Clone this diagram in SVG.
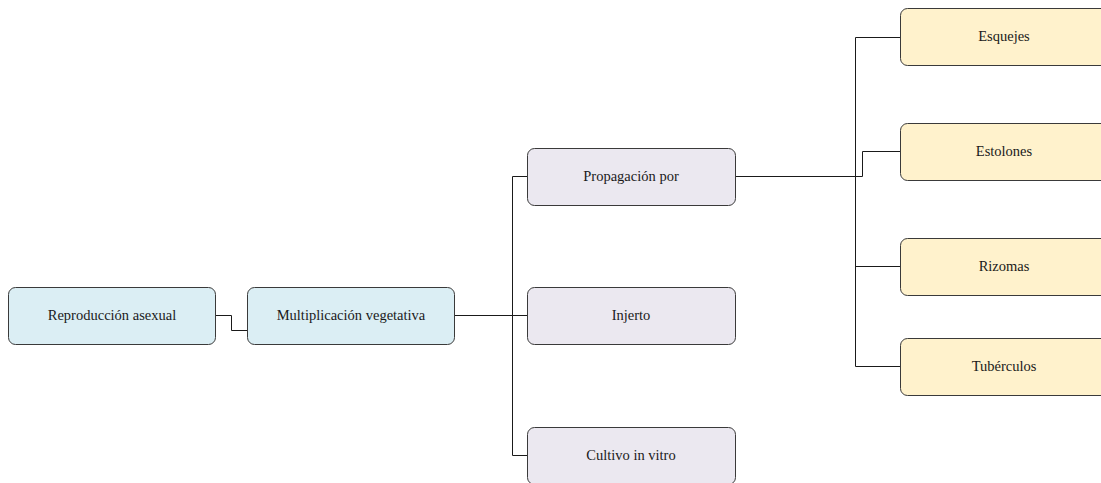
<svg xmlns="http://www.w3.org/2000/svg" width="1101" height="483" viewBox="0 0 1101 483">
<style>
.n rect{stroke:#3a3a3a;stroke-width:1;}
.b rect{fill:#dbeef4;}
.p rect{fill:#ebe8f0;}
.y rect{fill:#fff2cc;}
.n text{font-family:"Liberation Serif","Times New Roman",serif;font-size:14.5px;fill:#1a1a1a;text-anchor:middle;dominant-baseline:central;}
#connectors path{fill:none;stroke:#1a1a1a;stroke-width:1;}
</style>
<rect width="1101" height="483" fill="#ffffff"/>
<g id="connectors">
<path d="M215.5,315.5 H231.5 V330.5 H247"/>
<path d="M454.5,315.5 H527"/>
<path d="M527,176.5 H512.5 V455.5 H527"/>
<path d="M735,176.5 H862.5 V151.5 H900"/>
<path d="M900,37.5 H855.5 V366.5 H900"/>
<path d="M855.5,266.5 H900"/>
</g>
<g id="n1" class="n b"><rect x="8.5" y="287.5" width="207" height="57" rx="7"/><text x="112" y="315">Reproducción asexual</text></g>
<g id="n2" class="n b"><rect x="247.5" y="287.5" width="207" height="57" rx="7"/><text x="351" y="315">Multiplicación vegetativa</text></g>
<g id="n3" class="n p"><rect x="527.5" y="148.5" width="208" height="57" rx="7"/><text x="631" y="176">Propagación por</text></g>
<g id="n4" class="n p"><rect x="527.5" y="287.5" width="208" height="57" rx="7"/><text x="631" y="315">Injerto</text></g>
<g id="n5" class="n p"><rect x="527.5" y="427.5" width="208" height="57" rx="7"/><text x="631" y="455">Cultivo in vitro</text></g>
<g id="n6" class="n y"><rect x="900.5" y="8.5" width="208" height="57" rx="7"/><text x="1004" y="36">Esquejes</text></g>
<g id="n7" class="n y"><rect x="900.5" y="123.5" width="208" height="57" rx="7"/><text x="1004" y="151">Estolones</text></g>
<g id="n8" class="n y"><rect x="900.5" y="238.5" width="208" height="57" rx="7"/><text x="1004" y="266">Rizomas</text></g>
<g id="n9" class="n y"><rect x="900.5" y="338.5" width="208" height="57" rx="7"/><text x="1004" y="366">Tubérculos</text></g>
</svg>
